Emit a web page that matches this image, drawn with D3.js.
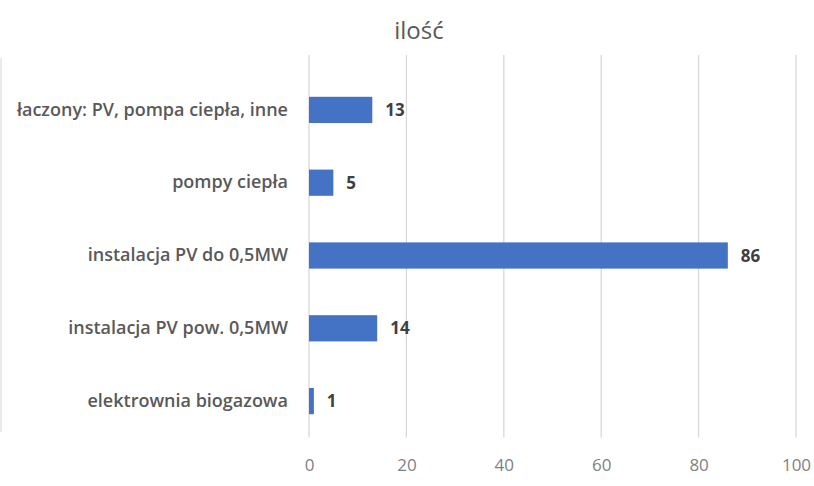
<!DOCTYPE html>
<html>
<head>
<meta charset="utf-8">
<script src="https://cdn.jsdelivr.net/npm/d3@7"></script>
<style>
  body { margin: 0; background: #fff; }
  svg { display: block; font-family: "Open Sans", sans-serif; }
</style>
</head>
<body>
<div id="chart"></div>
<script>
const categories = [
    "łaczony: PV, pompa ciepła, inne",
    "pompy ciepła",
    "instalacja PV do 0,5MW",
    "instalacja PV pow. 0,5MW",
    "elektrownia biogazowa"
];
const values = [13, 5, 86, 14, 1];
const xTicks = [0, 20, 40, 60, 80, 100];
const title = "ilość";

const width = 814;
const height = 486;
const plot = { left: 309, right: 796, top: 73.5, bottom: 437.5, gridTop: 55 };

const svg = d3.select("#chart")
    .append("svg")
    .attr("width", width)
    .attr("height", height);

const xScale = d3.scaleLinear()
    .domain([0, 100])
    .range([plot.left, plot.right]);

const yScale = d3.scaleBand()
    .domain(categories)
    .range([plot.top, plot.bottom])
    .paddingInner(0.64)
    .paddingOuter(0.32);

// faint left edge of the cropped chart frame
svg.append("line")
    .attr("x1", 1).attr("x2", 1)
    .attr("y1", 58).attr("y2", 432)
    .attr("stroke", "#e4e4e4")
    .attr("stroke-width", 1.5);

svg.append("text")
    .attr("x", 419)
    .attr("y", 39)
    .attr("text-anchor", "middle")
    .attr("fill", "#595959")
    .attr("font-size", 24)
    .text(title);

// vertical gridlines
svg.append("g")
    .selectAll("line")
    .data(xTicks)
    .join("line")
    .attr("x1", d => xScale(d))
    .attr("x2", d => xScale(d))
    .attr("y1", plot.gridTop)
    .attr("y2", plot.bottom)
    .attr("stroke", "#d9d9d9")
    .attr("stroke-width", 1.3);

const xAxis = d3.axisBottom(xScale).tickValues(xTicks).tickSize(0).tickPadding(0);
svg.append("g")
    .attr("transform", `translate(0, 459)`)
    .call(xAxis)
    .call(g => g.select(".domain").remove())
    .call(g => g.selectAll("text")
        .attr("fill", "#7f7f7f")
        .attr("font-size", 17)
        .attr("font-family", "Open Sans, sans-serif"));

const yAxis = d3.axisLeft(yScale).tickSize(0).tickPadding(21);
svg.append("g")
    .attr("transform", `translate(${plot.left}, 0)`)
    .call(yAxis)
    .call(g => g.select(".domain").remove())
    .call(g => g.selectAll("text")
        .attr("fill", "#595959")
        .attr("font-size", 18)
        .attr("font-weight", 600)
        .attr("font-family", "Open Sans, sans-serif"));

svg.append("g")
    .selectAll("rect")
    .data(values)
    .join("rect")
    .attr("x", xScale(0))
    .attr("y", (d, i) => yScale(categories[i]))
    .attr("width", d => xScale(d) - xScale(0))
    .attr("height", yScale.bandwidth())
    .attr("fill", "#4472c4");

svg.append("g")
    .selectAll("text")
    .data(values)
    .join("text")
    .attr("x", d => xScale(d) + 13)
    .attr("y", (d, i) => yScale(categories[i]) + yScale.bandwidth() / 2)
    .attr("dy", "0.36em")
    .attr("fill", "#404040")
    .attr("font-size", 17)
    .attr("font-weight", 700)
    .text(d => d);
</script>
</body>
</html>
